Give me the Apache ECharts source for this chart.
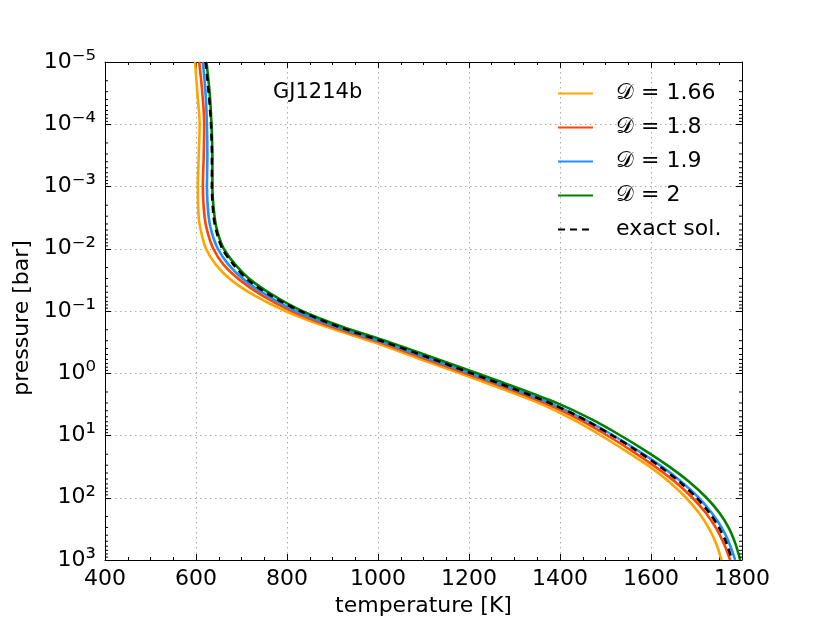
<!DOCTYPE html>
<html>
<head>
<meta charset="utf-8">
<script src="https://cdn.jsdelivr.net/npm/echarts@6/dist/echarts.min.js"></script>
<style>html,body{margin:0;padding:0;background:#fff}#c{width:830px;height:623px}</style>
</head>
<body>
<div id="c"></div>
<script>
// log10 of pressure [bar] at which temperatures were read
const logP = [-5,-4.5,-4,-3.5,-3,-2.5,-2.25,-2,-1.75,-1.5,-1.25,-1,-0.75,-0.5,-0.25,0,0.25,0.5,0.75,1,1.25,1.5,1.75,2,2.25,2.5,2.75,3];
const tD166 = [598,603,608,606,604,606,612,622,643,677,728,796,885,990,1084,1180,1272,1360,1430,1490,1545,1597,1641,1677,1706,1728,1744,1755];
const tD18  = [607,614,618,617,615,619,626,638,660,696,745,810,897,1002,1097,1192,1286,1373,1444,1504,1559,1609,1654,1691,1721,1744,1761,1774];
const tD19  = [615,621,624,625,624,628,635,648,671,706,756,819,906,1010,1106,1202,1296,1384,1456,1517,1573,1624,1668,1705,1734,1757,1773,1785];
const tD2   = [623,630,634,636,636,641,648,661,686,720,770,833,920,1025,1122,1218,1312,1400,1472,1533,1589,1640,1685,1722,1751,1772,1786,1796];
const tExact= [621,628,633,635,635,639,646,658,682,714,764,829,912,1015,1112,1205,1298,1385,1455,1515,1570,1620,1664,1700,1729,1751,1767,1778];
const seriesNames = ['\u{1D49F} = 1.66','\u{1D49F} = 1.8','\u{1D49F} = 1.9','\u{1D49F} = 2','exact sol.'];
const xTicks = [400,600,800,1000,1200,1400,1600,1800];
const yDecades = [-5,-4,-3,-2,-1,0,1,2,3];

const FONT = 'DejaVu Sans';
const pressures = logP.map(v => Math.pow(10, v));
const pairs = t => t.map((v,i) => [v, pressures[i]]);
const minorY = [];
for (let n = yDecades[0]; n < yDecades[yDecades.length-1]; n++) {
  for (let k = 2; k <= 9; k++) minorY.push(k * Math.pow(10, n));
}
const xMin = xTicks[0], xMax = xTicks[xTicks.length-1];

const SUP = {'-':'\u207B','0':'\u2070','1':'\u00B9','2':'\u00B2','3':'\u00B3','4':'\u2074','5':'\u2075','6':'\u2076','7':'\u2077','8':'\u2078','9':'\u2079'};
const yLabel = v => {
  const e = Math.round(Math.log10(v));
  return '{b|10}{s|' + String(e).split('').map(c => SUP[c]).join('') + '}';
};

const chart = echarts.init(document.getElementById('c'), null, {renderer:'canvas'});
const axisCommon = {
  axisLine:{show:true, lineStyle:{color:'#000', width:1}},
  axisTick:{show:true, inside:true, length:6, lineStyle:{color:'#000', width:1}},
};
const lineSeries = (name, data, color, extra) => Object.assign({
  type:'line', name, data, xAxisIndex:0, yAxisIndex:0,
  showSymbol:false, symbol:'none', smooth:0.3, clip:true,
  lineStyle:{color, width:2.6}, itemStyle:{color}, z:3
}, extra || {});

chart.setOption({
  animation:false,
  backgroundColor:'#fff',
  textStyle:{fontFamily:FONT},
  grid:{left:105, right:88, top:62, bottom:63, containLabel:false},
  title:{text:'GJ1214b', left:273, top:82, padding:0, textStyle:{fontFamily:FONT, fontSize:21, fontWeight:'normal', color:'#000'}},
  legend:{
    orient:'vertical', left:557, top:82, padding:0, itemWidth:35, itemHeight:14, itemGap:11,
    data:seriesNames,
    textStyle:{fontFamily:FONT, fontSize:22, color:'#000', lineHeight:23, padding:[0,0,0,18]},
    itemStyle:{opacity:0}
  },
  xAxis:[
    Object.assign({type:'value', min:xMin, max:xMax, interval:200, position:'bottom',
      name:'temperature [K]', nameLocation:'middle', nameGap:33,
      nameTextStyle:{fontFamily:FONT, fontSize:22, color:'#000'},
      axisLabel:{fontFamily:FONT, fontSize:22, color:'#000', margin:8, formatter:v => String(v)},
      minorTick:{show:true, splitNumber:4, length:3, lineStyle:{color:'#000'}},
      splitLine:{show:true, lineStyle:{color:'#aaa', type:[1.5,3.5], width:1}}
    }, axisCommon),
    Object.assign({type:'value', min:xMin, max:xMax, interval:200, position:'top',
      axisLabel:{show:false},
      minorTick:{show:true, splitNumber:4, length:3, lineStyle:{color:'#000'}},
      splitLine:{show:false}
    }, axisCommon)
  ],
  yAxis:[
    Object.assign({type:'log', logBase:10, min:1e-5, max:1e3, inverse:true, position:'left',
      name:'pressure [bar]', nameLocation:'middle', nameGap:66, nameRotate:90,
      nameTextStyle:{fontFamily:FONT, fontSize:22, color:'#000', padding:[0,14,0,0]},
      axisLabel:{formatter:yLabel, margin:9, color:'#000',
        rich:{b:{fontFamily:FONT, fontSize:22, color:'#000'},
              s:{fontFamily:FONT, fontSize:26, color:'#000'}}},
      splitLine:{show:true, lineStyle:{color:'#aaa', type:[1.5,3.5], width:1}}
    }, axisCommon),
    Object.assign({type:'log', logBase:10, min:1e-5, max:1e3, inverse:true, position:'right',
      axisLabel:{show:false}, splitLine:{show:false}
    }, axisCommon)
  ],
  series:[
    {
      type:'custom', name:'minorY', silent:true, xAxisIndex:0, yAxisIndex:0, z:5,
      data: minorY.map(v => [xMin, v]),
      renderItem:(params, api) => {
        const p = api.value(1);
        const a = api.coord([xMin, p]);
        const b = api.coord([xMax, p]);
        return {type:'group', children:[
          {type:'line', shape:{x1:a[0], y1:a[1], x2:a[0]+3, y2:a[1]}, style:{stroke:'#000', lineWidth:1}},
          {type:'line', shape:{x1:b[0], y1:b[1], x2:b[0]-3, y2:b[1]}, style:{stroke:'#000', lineWidth:1}}
        ]};
      }
    },
    lineSeries(seriesNames[0], pairs(tD166), '#FFA500'),
    lineSeries(seriesNames[1], pairs(tD18), '#FF4500'),
    lineSeries(seriesNames[2], pairs(tD19), '#1E90FF'),
    lineSeries(seriesNames[3], pairs(tD2), '#008000'),
    lineSeries(seriesNames[4], pairs(tExact), '#000000', {lineStyle:{color:'#000', width:2.6, type:[7,5]}, z:4})
  ]
});
</script>
</body>
</html>
